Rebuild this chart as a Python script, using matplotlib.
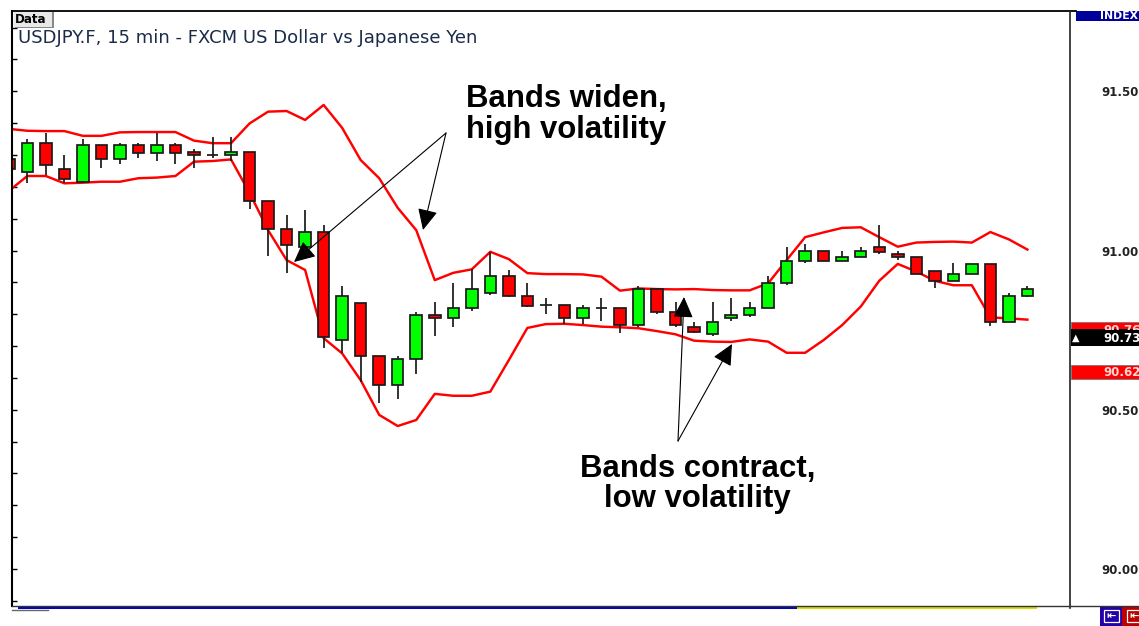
import numpy as np
import matplotlib
matplotlib.use("Agg")
import matplotlib.pyplot as plt
from matplotlib.patches import Rectangle

W, H = 1139, 626

opens = [91.287,91.247,91.339,91.256,91.216,91.330,91.286,91.330,91.307,91.330,91.308,91.299,91.299,91.308,
         91.156,91.067,91.010,91.057,90.720,90.836,90.669,90.577,90.659,90.798,90.789,90.820,90.867,90.919,
         90.857,90.829,90.828,90.789,90.819,90.819,90.767,90.879,90.806,90.759,90.737,90.789,90.798,90.820,
         90.897,90.966,90.998,90.966,90.980,91.010,90.988,90.980,90.936,90.905,90.927,90.958,90.777,90.858]
closes = [91.256,91.339,91.270,91.226,91.330,91.286,91.330,91.307,91.330,91.307,91.299,91.299,91.308,91.156,
          91.067,91.018,91.057,90.728,90.858,90.668,90.577,90.659,90.798,90.789,90.820,90.879,90.919,90.857,
          90.827,90.829,90.789,90.820,90.819,90.767,90.879,90.806,90.767,90.745,90.776,90.798,90.820,90.897,
          90.966,90.998,90.966,90.980,90.998,90.996,90.980,90.927,90.905,90.927,90.958,90.777,90.858,90.880]
highs = [91.287,91.350,91.370,91.301,91.350,91.330,91.339,91.339,91.370,91.339,91.318,91.357,91.357,91.308,
         91.156,91.111,91.127,91.080,90.890,90.836,90.669,90.669,90.807,90.837,90.899,90.941,90.996,90.939,
         90.899,90.852,90.828,90.829,90.852,90.819,90.889,90.879,90.837,90.777,90.837,90.850,90.837,90.920,
         91.010,91.020,90.998,90.998,91.012,91.080,90.998,90.980,90.936,90.960,90.958,90.958,90.868,90.890]
lows = [91.256,91.212,91.237,91.212,91.215,91.259,91.272,91.291,91.280,91.272,91.258,91.290,91.280,91.129,
        90.983,90.930,90.999,90.693,90.677,90.588,90.520,90.533,90.611,90.732,90.761,90.810,90.860,90.853,
        90.822,90.800,90.769,90.769,90.779,90.740,90.759,90.800,90.761,90.740,90.733,90.780,90.792,90.820,
        90.892,90.960,90.966,90.966,90.980,90.990,90.970,90.927,90.883,90.905,90.927,90.762,90.777,90.853]
upper_band = [91.382,91.376,91.375,91.375,91.360,91.360,91.371,91.372,91.372,91.372,91.345,91.337,91.337,91.399,
              91.436,91.438,91.410,91.457,91.385,91.284,91.227,91.134,91.064,90.907,90.930,90.941,90.996,90.973,
              90.929,90.926,90.926,90.925,90.918,90.874,90.881,90.879,90.878,90.879,90.876,90.875,90.875,90.897,
              90.970,91.042,91.057,91.071,91.073,91.042,91.012,91.025,91.027,91.028,91.025,91.058,91.035,91.003]
lower_band = [91.187,91.234,91.234,91.211,91.213,91.216,91.216,91.227,91.229,91.234,91.279,91.281,91.286,91.181,
              91.064,90.970,90.939,90.725,90.677,90.593,90.484,90.449,90.468,90.550,90.544,90.544,90.557,90.656,
              90.757,90.769,90.770,90.766,90.761,90.759,90.756,90.747,90.737,90.717,90.714,90.713,90.721,90.714,
              90.679,90.679,90.719,90.766,90.824,90.905,90.958,90.934,90.905,90.891,90.891,90.790,90.787,90.783]
major_ticks = [90.0, 90.5, 91.0, 91.5]
minor_ticks = [89.9, 90.1, 90.2, 90.3, 90.4, 90.6, 90.7, 90.8, 90.9, 91.1, 91.2, 91.3, 91.4, 91.6, 91.7]
tick_labels = ["90.00", "90.50", "91.00", "91.50"]
title_text = "USDJPY.F, 15 min - FXCM US Dollar vs Japanese Yen"
price_tags = [("90.76", 90.76, "#ff0000"), ("90.62", 90.62, "#ff0000")]
last_price = ("90.73", 90.73)


def fx(x):
    return x / W


def fy(y):
    return 1 - y / H


fig = plt.figure(figsize=(W / 100, H / 100), dpi=100, facecolor="white")
ax = fig.add_axes([fx(12), fy(606), fx(1070 - 12), (606 - 11) / H])
ax.set_facecolor("white")
ax.set_xlim(0.173, 57.3)
ax.set_ylim(89.884, 91.752)

idx = np.arange(len(opens))
o, c, hi, lo = map(np.array, (opens, closes, highs, lows))
colors = ["#ff0000" if b < a else "#00ff00" for a, b in zip(o, c)]

ax.plot(idx, upper_band, color="#ff0000", lw=1.75, zorder=2, solid_joinstyle="round")
ax.plot(idx, lower_band, color="#ff0000", lw=1.75, zorder=2, solid_joinstyle="round")
ax.vlines(idx, lo, hi, color="#1a1a1a", lw=1.25, zorder=3)
ax.bar(idx, c - o, bottom=o, width=0.62, color=colors, edgecolor="#1a1a1a", linewidth=1.25, zorder=4)

for s in ("top", "bottom", "left", "right"):
    ax.spines[s].set_visible(False)
ax.set_xticks([])
ax.set_yticks([])

fig.add_artist(plt.Line2D([fx(12), fx(1076)], [fy(11), fy(11)], color="black", lw=1.3))
fig.add_artist(plt.Line2D([fx(12), fx(12)], [fy(11), fy(606)], color="black", lw=1.5))
fig.add_artist(plt.Line2D([fx(1070), fx(1070)], [fy(11), fy(608)], color="#222222", lw=1.2))
fig.add_artist(plt.Line2D([fx(12), fx(1139)], [fy(605.5), fy(605.5)], color="#333333", lw=1.0))
fig.add_artist(plt.Line2D([fx(12), fx(48)], [fy(609.5), fy(609.5)], color="#666666", lw=1.0))

# scale ticks on both sides, drawn through the price axis
right_ax = ax.twinx()
right_ax.set_ylim(ax.get_ylim())
right_ax.set_xlim(ax.get_xlim())
for s in right_ax.spines.values():
    s.set_visible(False)
right_ax.yaxis.tick_right()
right_ax.set_yticks(major_ticks)
right_ax.set_yticklabels(tick_labels, fontweight="bold", fontsize=8.5, color="#222222", family="DejaVu Sans")
right_ax.set_yticks(minor_ticks, minor=True)
right_ax.tick_params(axis="y", which="major", direction="in", length=5, width=1.1, color="#333333", pad=22.5)
right_ax.tick_params(axis="y", which="minor", direction="in", length=3, width=1.1, color="#333333")
ax.set_yticks(major_ticks + minor_ticks)
ax.set_yticklabels([])
ax.tick_params(axis="y", direction="in", length=3.5, width=1.0, color="black", left=True, right=False)

# Bottom strip
fig.add_artist(Rectangle((fx(18), fy(609)), fx(797 - 18), 3.5 / H, color="#0000cc", lw=0, transform=fig.transFigure))
fig.add_artist(Rectangle((fx(797), fy(608.5)), fx(1037 - 797), 2.5 / H, color="#dddd00", lw=0, transform=fig.transFigure))

# Buttons
fig.add_artist(Rectangle((fx(1100), 0), fx(22), 20 / H, color="#2200aa", lw=0, transform=fig.transFigure))
fig.add_artist(Rectangle((fx(1122), 0), fx(17), 20 / H, color="#bb0000", lw=0, transform=fig.transFigure))
fig.add_artist(Rectangle((fx(1104), fy(622)), fx(15), 12 / H, fill=False, ec="white", lw=0.9, transform=fig.transFigure))
fig.add_artist(Rectangle((fx(1127), fy(622)), fx(15), 12 / H, fill=False, ec="white", lw=0.9, transform=fig.transFigure))
fig.text(fx(1111.5), fy(616), "\u21e4", color="white", fontsize=8, ha="center", va="center", fontweight="bold")
fig.text(fx(1134), fy(616), "\u21e4", color="white", fontsize=8, ha="center", va="center", fontweight="bold")

# Price scale tags
fig.add_artist(Rectangle((fx(1076), fy(21)), fx(63), 10 / H, color="#00009b", lw=0, transform=fig.transFigure))
fig.text(fx(1100), fy(16), "INDEX", color="white", fontsize=7.8, fontweight="bold", va="center", ha="left")

fig.add_artist(Rectangle((fx(1071), fy(329.5)), fx(68), 7.5 / H, fc="#ff0000", ec="#777777", lw=0.6, transform=fig.transFigure))
fig.text(fx(1103), fy(330), price_tags[0][0], color="#ffd0d0", fontsize=8.5, fontweight="bold", va="center", ha="left",
         clip_on=True, clip_path=Rectangle((fx(1071), fy(329.5)), fx(68), 7.5 / H, transform=fig.transFigure))
fig.add_artist(Rectangle((fx(1071), fy(345.5)), fx(68), 16.5 / H, color="black", lw=0, transform=fig.transFigure))
fig.text(fx(1103), fy(338), last_price[0], color="white", fontsize=8.5, fontweight="bold", va="center", ha="left")
fig.text(fx(1076), fy(338), "\u25b2", color="white", fontsize=7, va="center", ha="center")
fig.add_artist(Rectangle((fx(1071), fy(379)), fx(68), 14 / H, fc="#ff0000", ec="#777777", lw=0.6, transform=fig.transFigure))
fig.text(fx(1103), fy(372), price_tags[1][0], color="#ffd8d8", fontsize=8.5, fontweight="bold", va="center", ha="left")

# Header
fig.add_artist(Rectangle((fx(15), fy(28)), fx(39), 16 / H, color="#888888", lw=0, transform=fig.transFigure))
fig.add_artist(Rectangle((fx(13.5), fy(26.5)), fx(38.5), 15 / H, color="#e8e8e8", lw=0, transform=fig.transFigure))
fig.text(fx(15), fy(19.5), "Data", color="black", fontsize=8.6, fontweight="bold", va="center", ha="left")
fig.text(fx(18), fy(38), title_text, color="#1c2b4a", fontsize=13, va="center", ha="left")

# Annotations
bold = dict(family="Liberation Sans", fontweight="bold", color="black", fontsize=22.4)
fig.text(fx(466), fy(98.5), "Bands widen,", va="center", ha="left", **bold)
fig.text(fx(466), fy(129.5), "high volatility", va="center", ha="left", **bold)
fig.text(fx(697.5), fy(469.5), "Bands contract,", va="center", ha="center", **bold)
fig.text(fx(697.5), fy(499.5), "low volatility", va="center", ha="center", **bold)

arrow_style = dict(arrowstyle="-|>,head_length=1.3,head_width=0.62", color="black", lw=0.8,
                   mutation_scale=10, shrinkA=0, shrinkB=0)
for start, tip in [((446, 133), (294, 262)), ((446, 133), (423, 230)),
                   ((678, 441), (684, 297)), ((678, 441), (732, 344))]:
    ax.annotate("", xy=(fx(tip[0]), fy(tip[1])), xytext=(fx(start[0]), fy(start[1])),
                xycoords="figure fraction", textcoords="figure fraction", arrowprops=arrow_style,
                annotation_clip=False, zorder=9)
right_ax.set_zorder(ax.get_zorder() - 1)
ax.patch.set_visible(True)
right_ax.patch.set_visible(False)

fig.savefig("out.png", dpi=100)
